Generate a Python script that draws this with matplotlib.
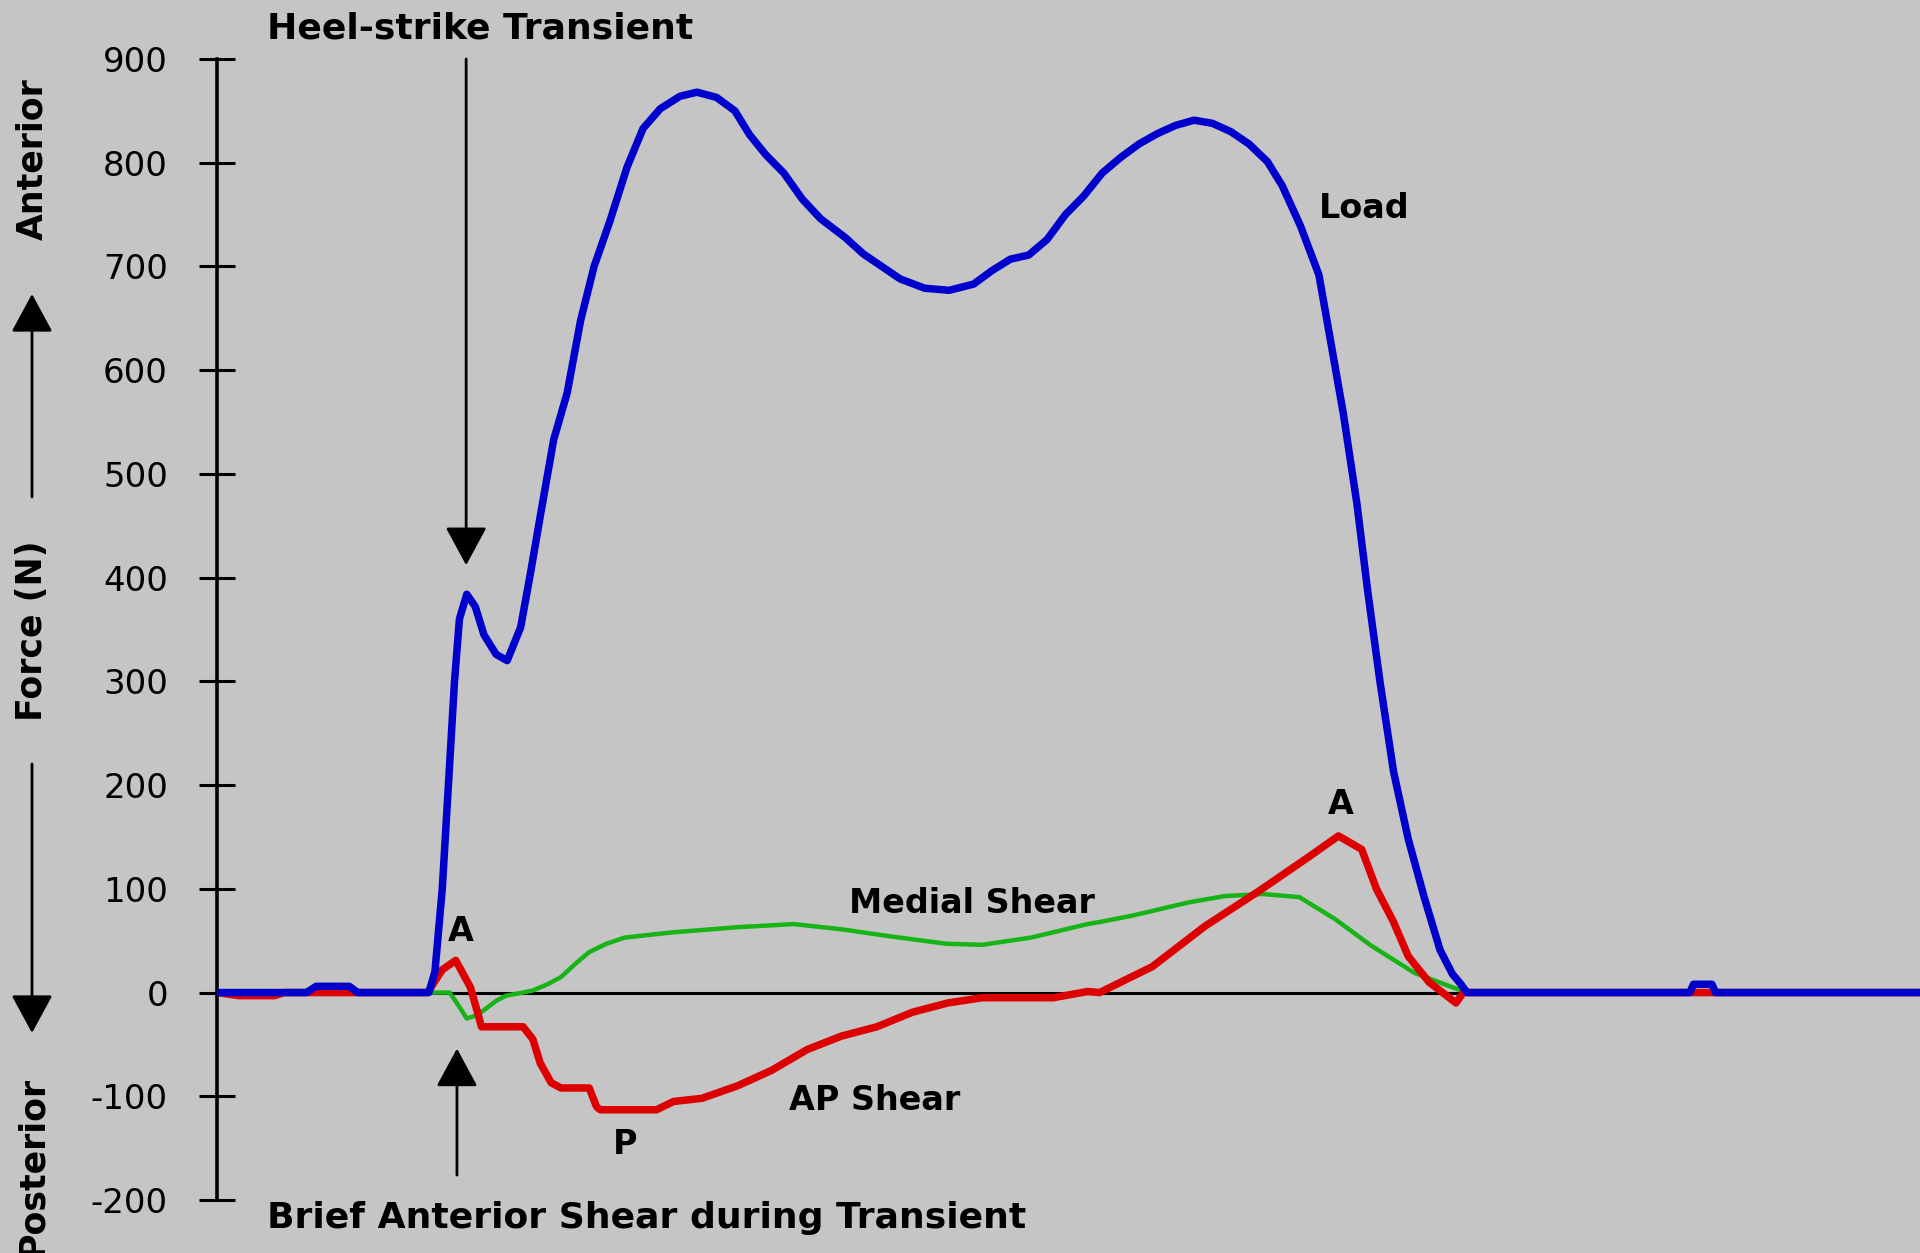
import matplotlib
matplotlib.use("Agg")
import matplotlib.pyplot as plt

# time samples (arbitrary units) and forces in N
load_t = [0, 73, 81, 108, 115, 173, 178, 184, 189, 194, 198, 204, 211, 218, 228, 237,
          248, 256, 264, 275, 286, 297, 308, 321, 335, 348, 362, 378, 392,
          408, 423, 435, 448, 463, 478, 493, 513, 528, 543, 558, 578, 598, 618, 633,
          648, 663, 678, 693, 708, 723, 738, 753, 768, 783, 798, 813, 828, 843, 858,
          870, 885, 900, 909, 920, 931, 940, 950, 961, 973, 986,
          999, 1009, 1016, 1021, 1203, 1206, 1221, 1224, 1391]
load_f = [0, 0, 6, 6, 0, 0, 20, 100, 200, 300, 360, 384, 372, 345, 326, 320,
          352, 404, 459, 533, 578, 648, 700, 744, 796, 833, 852, 864, 868,
          863, 850, 827, 808, 790, 765, 746, 728, 712, 700, 688, 679, 677, 683, 696,
          707, 711, 726, 750, 768, 790, 805, 818, 828, 836, 841, 838, 830, 818, 801,
          778, 739, 692, 632, 558, 472, 386, 299, 213, 148, 92,
          41, 18, 8, 0, 0, 8, 8, 0, 0]

medial_t = [0, 190, 197, 204, 212, 218, 228, 236, 250, 258, 270, 281, 293, 304, 318,
            333, 372, 425, 471, 510, 551, 596, 625, 665, 711, 721, 747, 794, 823, 854,
            884, 913, 943, 978, 1007, 1021, 1391]
medial_f = [0, 0, -12, -25, -22, -17, -8, -3, 0, 2, 8, 15, 28, 39, 47,
            53, 58, 63, 66, 61, 54, 47, 46, 53, 66, 68, 74, 87, 93, 95,
            92, 71, 45, 19, 6, 0, 0]

ap_t = [0, 18, 47, 55, 172, 184, 195, 207, 213, 216, 250, 258, 264, 273, 281, 304,
        310, 313, 359, 373, 396, 425, 453, 482, 510, 539, 568, 597, 625, 683, 711,
        721, 764, 807, 850, 892, 916, 935, 947, 961, 973, 990, 1012, 1018, 1391]
ap_f = [0, -3, -3, 0, 0, 22, 31, 5, -20, -33, -33, -45, -68, -87, -92, -92,
        -110, -113, -113, -105, -102, -90, -75, -55, -42, -33, -19, -10, -5, -5, 1,
        0, 25, 64, 97, 131, 151, 138, 100, 68, 35, 10, -10, 0, 0]

y_ticks = [-200, -100, 0, 100, 200, 300, 400, 500, 600, 700, 800, 900]

bg = "#c5c5c5"
W, H = 1920, 1253

fig = plt.figure(figsize=(19.2, 12.53), dpi=100, facecolor=bg)
ax = fig.add_axes([217 / W, 1 - 1200 / H, 1703 / W, 1141 / H])
ax.set_facecolor(bg)

ax.axhline(0, color="black", lw=2.2, zorder=1)
ax.plot(medial_t, medial_f, color="#17b317", lw=3.2, zorder=2,
        solid_joinstyle="round", solid_capstyle="butt")
ax.plot(ap_t, ap_f, color="#dd0000", lw=5.4, zorder=3,
        solid_joinstyle="round", solid_capstyle="butt")
ax.plot(load_t, load_f, color="#0000cc", lw=5.4, zorder=4,
        solid_joinstyle="round", solid_capstyle="butt")

ax.set_xlim(0, 1391)
ax.set_ylim(-200, 900)
ax.set_yticks(y_ticks)
ax.set_yticklabels([str(v) for v in y_ticks])
ax.set_xticks([])
for s in ["top", "right", "bottom"]:
    ax.spines[s].set_visible(False)
ax.spines["left"].set_linewidth(2.6)
ax.tick_params(axis="y", direction="inout", length=26.6, width=2.2,
               pad=22, labelsize=24.5)

# arrows
head = "-|>,head_length=2.4,head_width=1.3"
ax.annotate("", xy=(203.5, 412), xytext=(203.5, 900),
            arrowprops=dict(arrowstyle=head, color="black", lw=2,
                            shrinkA=0, shrinkB=0, mutation_scale=10))
ax.annotate("", xy=(196, -54), xytext=(196, -176),
            arrowprops=dict(arrowstyle=head, color="black", lw=2,
                            shrinkA=0, shrinkB=0, mutation_scale=10))

bold = dict(fontweight="bold", color="black")
ax.text(41, 920, "Heel-strike Transient", fontsize=26, ha="left", va="baseline", **bold)
ax.text(41, -227, "Brief Anterior Shear during Transient", fontsize=26,
        ha="left", va="baseline", **bold)
ax.text(900, 747, "Load", fontsize=24, ha="left", va="baseline", **bold)
ax.text(516, 77, "Medial Shear", fontsize=24, ha="left", va="baseline", **bold)
ax.text(467, -113, "AP Shear", fontsize=24, ha="left", va="baseline", **bold)
ax.text(333, -156, "P", fontsize=24, ha="center", va="baseline", **bold)
ax.text(199.5, 50, "A", fontsize=24, ha="center", va="baseline", **bold)
ax.text(918, 172, "A", fontsize=24, ha="center", va="baseline", **bold)

# y-axis label with direction arrows
fig.text(32 / W, 1094 / H, "Anterior", rotation=90, ha="center", va="center",
         fontsize=25, **bold)
fig.text(32 / W, 622 / H, "Force (N)", rotation=90, ha="center", va="center",
         fontsize=25, **bold)
fig.text(32 / W, 87 / H, "Posterior", rotation=90, ha="center", va="center",
         fontsize=25, **bold)
ax.annotate("", xy=(32, 959), xytext=(32, 756), xycoords="figure pixels",
            textcoords="figure pixels",
            arrowprops=dict(arrowstyle=head, color="black", lw=2,
                            shrinkA=0, shrinkB=0, mutation_scale=10))
ax.annotate("", xy=(32, 220), xytext=(32, 489), xycoords="figure pixels",
            textcoords="figure pixels",
            arrowprops=dict(arrowstyle=head, color="black", lw=2,
                            shrinkA=0, shrinkB=0, mutation_scale=10))

fig.savefig("out.png", dpi=100, facecolor=bg)
